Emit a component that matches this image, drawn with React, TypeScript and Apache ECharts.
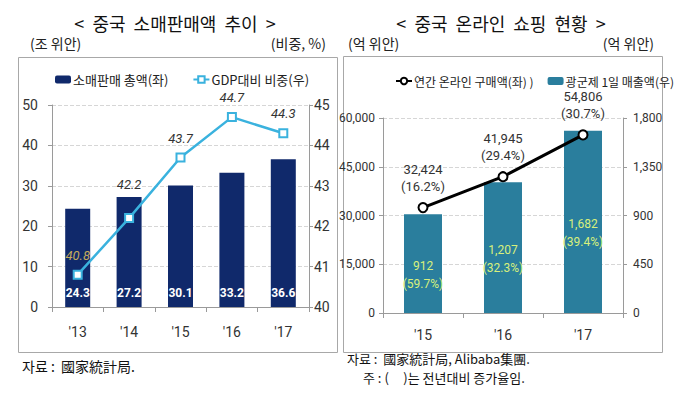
import React, { useEffect, useRef } from "react";
import * as echarts from "echarts";

const retailYears = ["'13", "'14", "'15", "'16", "'17"];
const retailSales = [24.3, 27.2, 30.1, 33.2, 36.6];
const gdpShare = [40.8, 42.2, 43.7, 44.7, 44.3];

const onlineYears = ["'15", "'16", "'17"];
const onlinePurchase = [32424, 41945, 54806];
const onlineGrowth = ["16.2%", "29.4%", "30.7%"];
const singlesDaySales = [912, 1207, 1682];
const singlesDayGrowth = ["59.7%", "32.3%", "39.4%"];

const leftTicks = { min: 0, max: 50, interval: 10 };
const leftRightTicks = { min: 40, max: 45, interval: 1 };
const rightLeftTicks = { min: 0, max: 60000, interval: 15000 };
const rightRightTicks = { min: 0, max: 1800, interval: 450 };

const NUM = "'Roboto', 'Liberation Sans', sans-serif";
const KR = "'Noto Sans CJK KR', sans-serif";

const fmt = (v: number) => v.toLocaleString("en-US");

export default function App() {
  const ref = useRef<HTMLDivElement>(null);
  useEffect(() => {
    if (!ref.current) return;
    const chart = echarts.init(ref.current, undefined, { renderer: "svg" });
    const axisLineStyle = { lineStyle: { color: "#9a9a9a", width: 1 } };
    const valueLabel = { color: "#333", fontFamily: NUM, fontSize: 13 };
    chart.setOption({
      animation: false,
      backgroundColor: "#fff",
      textStyle: { fontFamily: KR },
      graphic: [
        { type: "rect", shape: { x: 18.5, y: 57.5, width: 319, height: 295 }, style: { fill: "none", stroke: "#a8a8a8", lineWidth: 1 } },
        { type: "rect", shape: { x: 343.5, y: 56.5, width: 319, height: 296 }, style: { fill: "none", stroke: "#a8a8a8", lineWidth: 1 } },
        { type: "text", x: 175, y: 23, style: { text: "<  중국  소매판매액  추이  >", fontFamily: KR, fontSize: 18, fill: "#111", align: "center", verticalAlign: "middle" } },
        { type: "text", x: 501, y: 23, style: { text: "<  중국  온라인  쇼핑  현황  >", fontFamily: KR, fontSize: 18, fill: "#111", align: "center", verticalAlign: "middle" } },
        { type: "text", x: 30, y: 43, style: { text: "(조 위안)", fontFamily: KR, fontSize: 14, fill: "#222", align: "left", verticalAlign: "middle" } },
        { type: "text", x: 326, y: 43, style: { text: "(비중, %)", fontFamily: KR, fontSize: 14, fill: "#222", align: "right", verticalAlign: "middle" } },
        { type: "text", x: 348, y: 43, style: { text: "(억 위안)", fontFamily: KR, fontSize: 14, fill: "#222", align: "left", verticalAlign: "middle" } },
        { type: "text", x: 654, y: 43, style: { text: "(억 위안)", fontFamily: KR, fontSize: 14, fill: "#222", align: "right", verticalAlign: "middle" } },
        { type: "text", x: 22, y: 366, style: { text: "자료 :  國家統計局.", fontFamily: KR, fontSize: 14, fill: "#111", align: "left", verticalAlign: "middle" } },
        { type: "text", x: 347, y: 358, style: { text: "자료 :  國家統計局, Alibaba集團.", fontFamily: KR, fontSize: 13, fill: "#111", align: "left", verticalAlign: "middle" } },
        { type: "text", x: 363, y: 377, style: { text: "주 : (     )는 전년대비 증가율임.", fontFamily: KR, fontSize: 13, fill: "#111", align: "left", verticalAlign: "middle" } },
      ],
      legend: [
        {
          left: 50, top: 68, itemWidth: 16, itemHeight: 8, itemGap: 24, selectedMode: false,
          textStyle: { fontFamily: KR, fontSize: 13, color: "#222", padding: [0, 0, 0, -3] },
          data: ["소매판매 총액(좌)", "GDP대비 비중(우)"],
        },
        {
          left: 390, top: 70, width: 300, itemWidth: 16, itemHeight: 8, itemGap: 14, selectedMode: false,
          textStyle: { fontFamily: KR, fontSize: 12, color: "#222", padding: [0, 0, 0, -3] },
          data: ["연간 온라인 구매액(좌) )", "광군제 1일 매출액(우)"],
        },
      ],
      grid: [
        { left: 52, right: 371, top: 105, bottom: 92 },
        { left: 383, right: 57, top: 118, bottom: 86 },
      ],
      xAxis: [
        {
          gridIndex: 0, type: "category", data: retailYears,
          axisLine: axisLineStyle, axisTick: { show: true, length: 5, lineStyle: { color: "#9a9a9a" } },
          axisLabel: { ...valueLabel, fontSize: 14, margin: 18 },
        },
        {
          gridIndex: 1, type: "category", data: onlineYears,
          axisLine: axisLineStyle, axisTick: { show: true, length: 5, lineStyle: { color: "#9a9a9a" } },
          axisLabel: { ...valueLabel, fontSize: 14, margin: 15 },
        },
      ],
      yAxis: [
        {
          gridIndex: 0, type: "value", ...leftTicks, position: "left",
          axisLine: { show: true, ...axisLineStyle }, axisTick: { show: true, length: 4, lineStyle: { color: "#9a9a9a" } },
          axisLabel: { ...valueLabel, fontSize: 14, margin: 14 },
          splitLine: { show: true, lineStyle: { color: "#d6d6d6", type: "dashed" } },
        },
        {
          gridIndex: 0, type: "value", ...leftRightTicks, position: "right",
          axisLine: { show: true, ...axisLineStyle }, axisTick: { show: true, length: 4, lineStyle: { color: "#9a9a9a" } },
          axisLabel: { ...valueLabel, fontSize: 14, margin: 5 },
          splitLine: { show: false },
        },
        {
          gridIndex: 1, type: "value", ...rightLeftTicks, position: "left",
          axisLine: { show: true, ...axisLineStyle }, axisTick: { show: true, length: 4, lineStyle: { color: "#9a9a9a" } },
          axisLabel: { ...valueLabel, fontSize: 12, margin: 8, formatter: (v: number) => fmt(v) },
          splitLine: { show: true, lineStyle: { color: "#d6d6d6", type: "dashed" } },
        },
        {
          gridIndex: 1, type: "value", ...rightRightTicks, position: "right",
          axisLine: { show: true, ...axisLineStyle }, axisTick: { show: true, length: 4, lineStyle: { color: "#9a9a9a" } },
          axisLabel: { ...valueLabel, fontSize: 12, margin: 10, formatter: (v: number) => fmt(v) },
          splitLine: { show: false },
        },
      ],
      series: [
        {
          name: "소매판매 총액(좌)", type: "bar", xAxisIndex: 0, yAxisIndex: 0,
          data: retailSales, barWidth: 25,
          itemStyle: { color: "#10296b" },
          label: { show: true, position: "insideBottom", distance: 8, color: "#fff", fontWeight: "bold", fontSize: 12, fontFamily: NUM },
        },
        {
          name: "GDP대비 비중(우)", type: "line", xAxisIndex: 0, yAxisIndex: 1,
          data: gdpShare.map((v, i) => ({
            value: v,
            label: i === 0 ? { color: "#c4aa5c" } : i === 1 ? { distance: 22 } : {},
          })),
          symbol: "rect", symbolSize: 8,
          lineStyle: { color: "#3ab2de", width: 2.5 },
          itemStyle: { color: "#fff", borderColor: "#3ab2de", borderWidth: 2 },
          label: { show: true, position: "top", distance: 8, color: "#333", fontStyle: "italic", fontSize: 13, fontFamily: NUM },
          z: 5,
        },
        {
          name: "광군제 1일 매출액(우)", type: "bar", xAxisIndex: 1, yAxisIndex: 3,
          data: singlesDaySales, barWidth: 38,
          itemStyle: { color: "#2a7e9d" },
          label: {
            show: true, position: "inside", offset: [0, 11], color: "#d8f07c", fontSize: 12, lineHeight: 18, fontFamily: NUM,
            formatter: (p: any) => `${fmt(p.value)}\n(${singlesDayGrowth[p.dataIndex]})`,
          },
        },
        {
          name: "연간 온라인 구매액(좌) )", type: "line", xAxisIndex: 1, yAxisIndex: 2,
          data: onlinePurchase,
          symbol: "circle", symbolSize: 9,
          lineStyle: { color: "#000", width: 3 },
          itemStyle: { color: "#fff", borderColor: "#000", borderWidth: 2 },
          label: {
            show: true, position: "top", distance: 7, color: "#333", fontSize: 13, lineHeight: 17, fontFamily: NUM,
            formatter: (p: any) => `${fmt(p.value)}\n(${onlineGrowth[p.dataIndex]})`,
          },
          z: 5,
        },
      ],
    });
    return () => chart.dispose();
  }, []);
  return <div ref={ref} style={{ position: "absolute", left: 0, top: 0, width: 680, height: 399 }} />;
}
